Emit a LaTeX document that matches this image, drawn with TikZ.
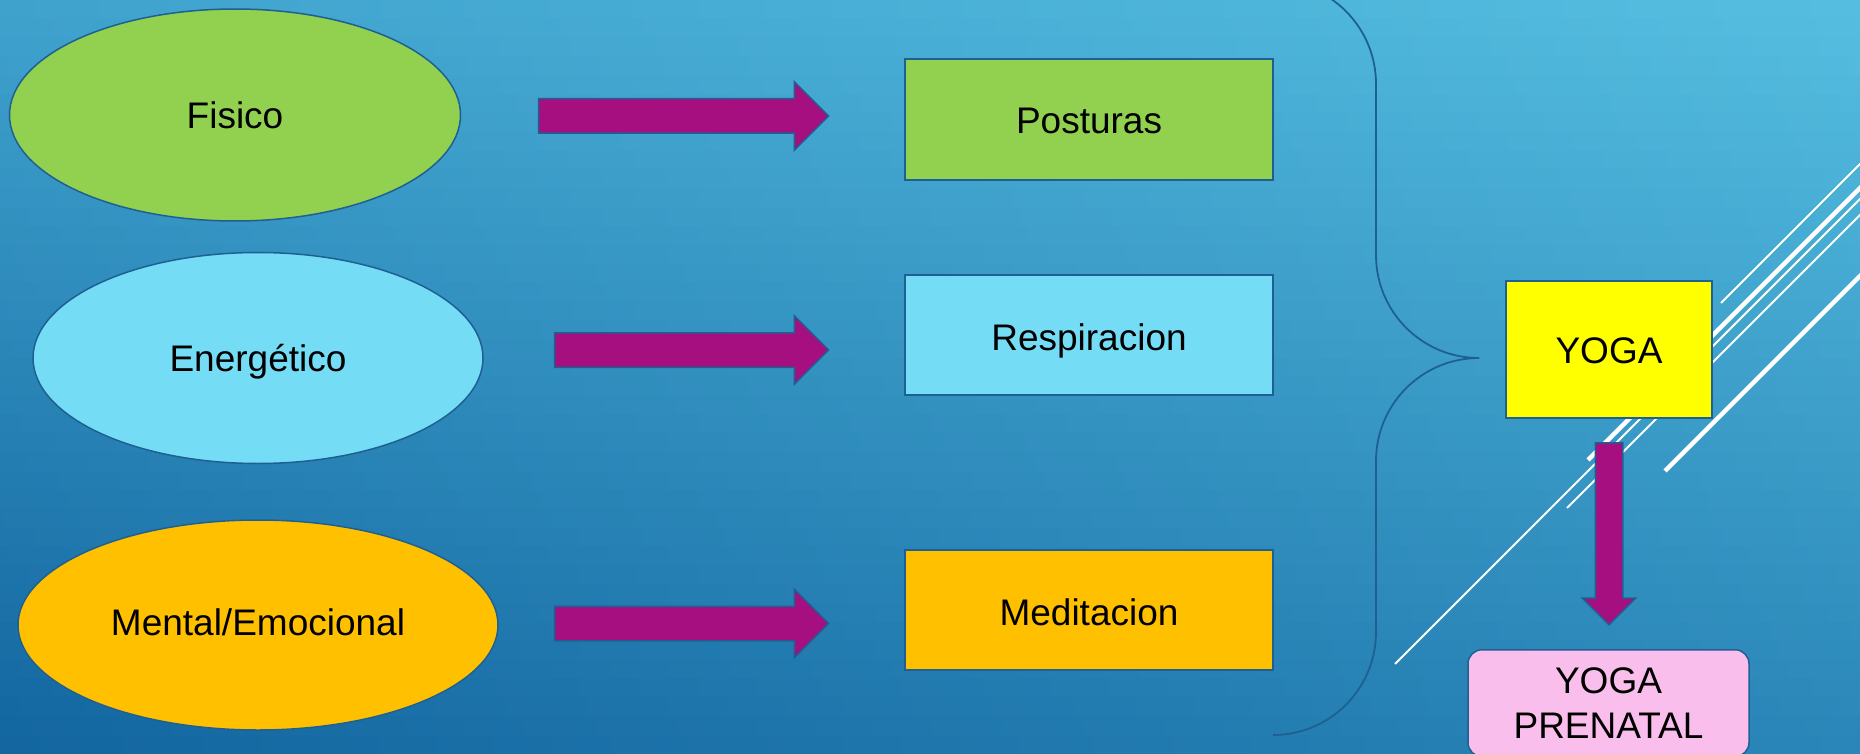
\documentclass[tikz,border=0pt]{standalone}
\usepackage{fontspec}
\setmainfont{Liberation Sans}
\usetikzlibrary{shapes.geometric,shapes.arrows}
\definecolor{bgTL}{HTML}{3FA2CD}
\definecolor{bgTR}{HTML}{55BEE0}
\definecolor{bgBL}{HTML}{1366A0}
\definecolor{bgBR}{HTML}{2A86B8}
\definecolor{lineblue}{HTML}{1F6092}
\definecolor{fgreen}{HTML}{92D050}
\definecolor{fcyan}{HTML}{75DCF5}
\definecolor{forange}{HTML}{FFC000}
\definecolor{fyellow}{HTML}{FFFF00}
\definecolor{fpink}{HTML}{FABEEC}
\definecolor{apurple}{HTML}{A50F80}
\begin{document}
\begin{tikzpicture}[x=1pt,y=-1pt,
  edge/.style={draw=lineblue, line width=1.5pt},
  lbl/.style={font=\fontsize{37}{45}\selectfont, text=black},
  oval/.style={ellipse, edge, inner sep=0pt, lbl, text height=31pt, text depth=4pt},
  box/.style={rectangle, edge, inner sep=0pt, lbl, text height=35pt, text depth=4pt},
  blockarrow/.style={single arrow, draw=lineblue, line width=1.5pt, fill=apurple,
    inner xsep=0pt, inner ysep=16.5pt, single arrow tip angle=90, single arrow head extend=17pt},
  thinline/.style={draw=white, line width=2pt},
  thickline/.style={draw=white, line width=4.5pt},
  brace/.style={draw=lineblue, line width=1.8pt}]
\useasboundingbox (0,0) rectangle (1860,754);
\clip (0,0) rectangle (1860,754);
% background: strips with horizontal gradients, interpolated top to bottom
\foreach \i in {0,...,39} {
  \pgfmathsetmacro\p{100-\i*100/39}
  \pgfmathsetmacro\ya{\i*18.85}
  \pgfmathsetmacro\yb{\i*18.85+19.6}
  \shade[left color=bgTL!\p!bgBL, right color=bgTR!\p!bgBR] (0,\ya) rectangle (1860,\yb);
}
% decorative lines
\coordinate (la1) at (1721,303); \coordinate (la2) at (1862,162);
\coordinate (lb1) at (1588,460); \coordinate (lb2) at (1862,186);
\coordinate (lc1) at (1395,664); \coordinate (lc2) at (1862,197);
\coordinate (ld1) at (1567,508); \coordinate (ld2) at (1862,213);
\coordinate (le1) at (1665,471); \coordinate (le2) at (1862,274);
\draw[thinline] (la1) -- (la2);
\draw[thickline] (lb1) -- (lb2);
\draw[thinline] (lc1) -- (lc2);
\draw[thinline] (ld1) -- (ld2);
\draw[thickline] (le1) -- (le2);
% brace
\coordinate (bt) at (1273,-19);
\coordinate (bm) at (1376,358);
\coordinate (tip) at (1479,358);
\coordinate (bb) at (1273,735);
\draw[brace, rounded corners=103pt] (bt) -| (bm) -- (tip);
\draw[brace, rounded corners=103pt] (tip) -- (bm) |- (bb);
% ellipses
\node[oval, fill=fgreen, minimum width=451pt, minimum height=212pt] (fisico) at (235,115) {Fisico};
\node[oval, fill=fcyan, minimum width=450pt, minimum height=211pt] (energ) at (258,358) {Energético};
\node[oval, fill=forange, minimum width=480pt, minimum height=210pt, text height=24pt] (mental) at (258,625) {Mental/Emocional};
% boxes
\node[box, fill=fgreen, minimum width=368pt, minimum height=121pt, text height=33pt] (post) at (1089,119.5) {Posturas};
\node[box, fill=fcyan, minimum width=368pt, minimum height=120pt] (resp) at (1089,335) {Respiracion};
\node[box, fill=forange, minimum width=368pt, minimum height=120pt] (medi) at (1089,610) {Meditacion};
\node[box, fill=fyellow, minimum width=206pt, minimum height=137pt, text height=31pt] (yoga) at (1609,349.5) {YOGA};
\node[rectangle, edge, lbl, fill=fpink, rounded corners=14pt, minimum width=281pt, inner xsep=0pt, inner ysep=18pt,
  anchor=north, align=center] (pren) at (1608.5,649) {YOGA\\PRENATAL};
% block arrows
\node[blockarrow, minimum height=290pt] (a1) at (675,116) {};
\node[blockarrow, minimum height=274pt] (a2) at (683,350) {};
\node[blockarrow, minimum height=274pt] (a3) at (683,623.5) {};
\node[blockarrow, rotate=-90, minimum height=182pt, inner ysep=13pt, single arrow head extend=13pt] (a4) at (1609,527) {};
\end{tikzpicture}
\end{document}
